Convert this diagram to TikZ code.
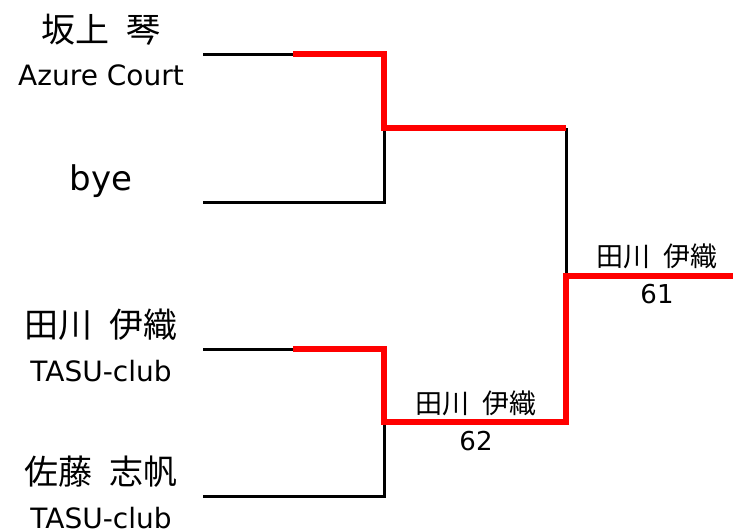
\documentclass[tikz,border=0pt]{standalone}
\usepackage{fontspec}
\setmainfont{DejaVu Sans}
\newfontfamily\cjk[WordSpace=2.2]{Noto Sans CJK JP}
\usetikzlibrary{positioning}

\begin{document}
\begin{tikzpicture}[x=1pt,y=-1pt,
	player/.style={font=\cjk\fontsize{34}{40}\selectfont, inner sep=0pt},
	club/.style={font=\fontsize{28}{34}\selectfont, inner sep=0pt},
	winner/.style={font=\cjk\fontsize{27}{31}\selectfont, inner sep=0pt},
	score/.style={font=\fontsize{26}{31}\selectfont, inner sep=0pt},
	lose/.style={line width=3pt, black},
	win/.style={line width=5.5pt, red}]
		\useasboundingbox (0,0) rectangle (733,531);
		\node[player] (n1) at (101,30) {坂上 琴};
		\node[club] (c1) [below=19pt of n1] {Azure Court};
		\node[player, font=\fontsize{34}{40}\selectfont, anchor=base] (n2) at (101,190) {bye};
		\node[player] (n3) at (101,325) {田川 伊織};
		\node[club] (c3) [below=19pt of n3] {TASU-club};
		\node[player] (n4) at (101,472) {佐藤 志帆};
		\node[club] (c4) [below=19pt of n4] {TASU-club};
		\node[winner] (w1) at (476,403) {田川 伊織};
		\node[score] (s1) [below=15pt of w1] {62};
		\node[winner] (w2) at (657,256) {田川 伊織};
		\node[score] (s2) [below=15pt of w2] {61};
		\coordinate (p1) at (203,54);
		\coordinate (p2) at (203,202);
		\coordinate (p3) at (203,349);
		\coordinate (p4) at (203,496);
		\coordinate (m1) at (293,54);
		\coordinate (m3) at (293,349);
		\coordinate (k1) at (384,128);
		\coordinate (k2) at (384,422);
		\coordinate (f1) at (566,128);
		\coordinate (f2) at (566,422);
		\coordinate (f0) at (566,276);
		\coordinate (ch) at (733,276);
		\draw[lose] (p1) -- (m1);
		\draw[lose] (p2) -| (k1);
		\draw[lose] (p3) -- (m3);
		\draw[lose] (p4) -| (k2);
		\draw[lose] (f1) -- (f0);
		\draw[win] (m1) -| (k1) -- (f1);
		\draw[win] (m3) -| (k2) -- (f2) -- (f0) -- (ch);
		\end{tikzpicture}
\end{document}
